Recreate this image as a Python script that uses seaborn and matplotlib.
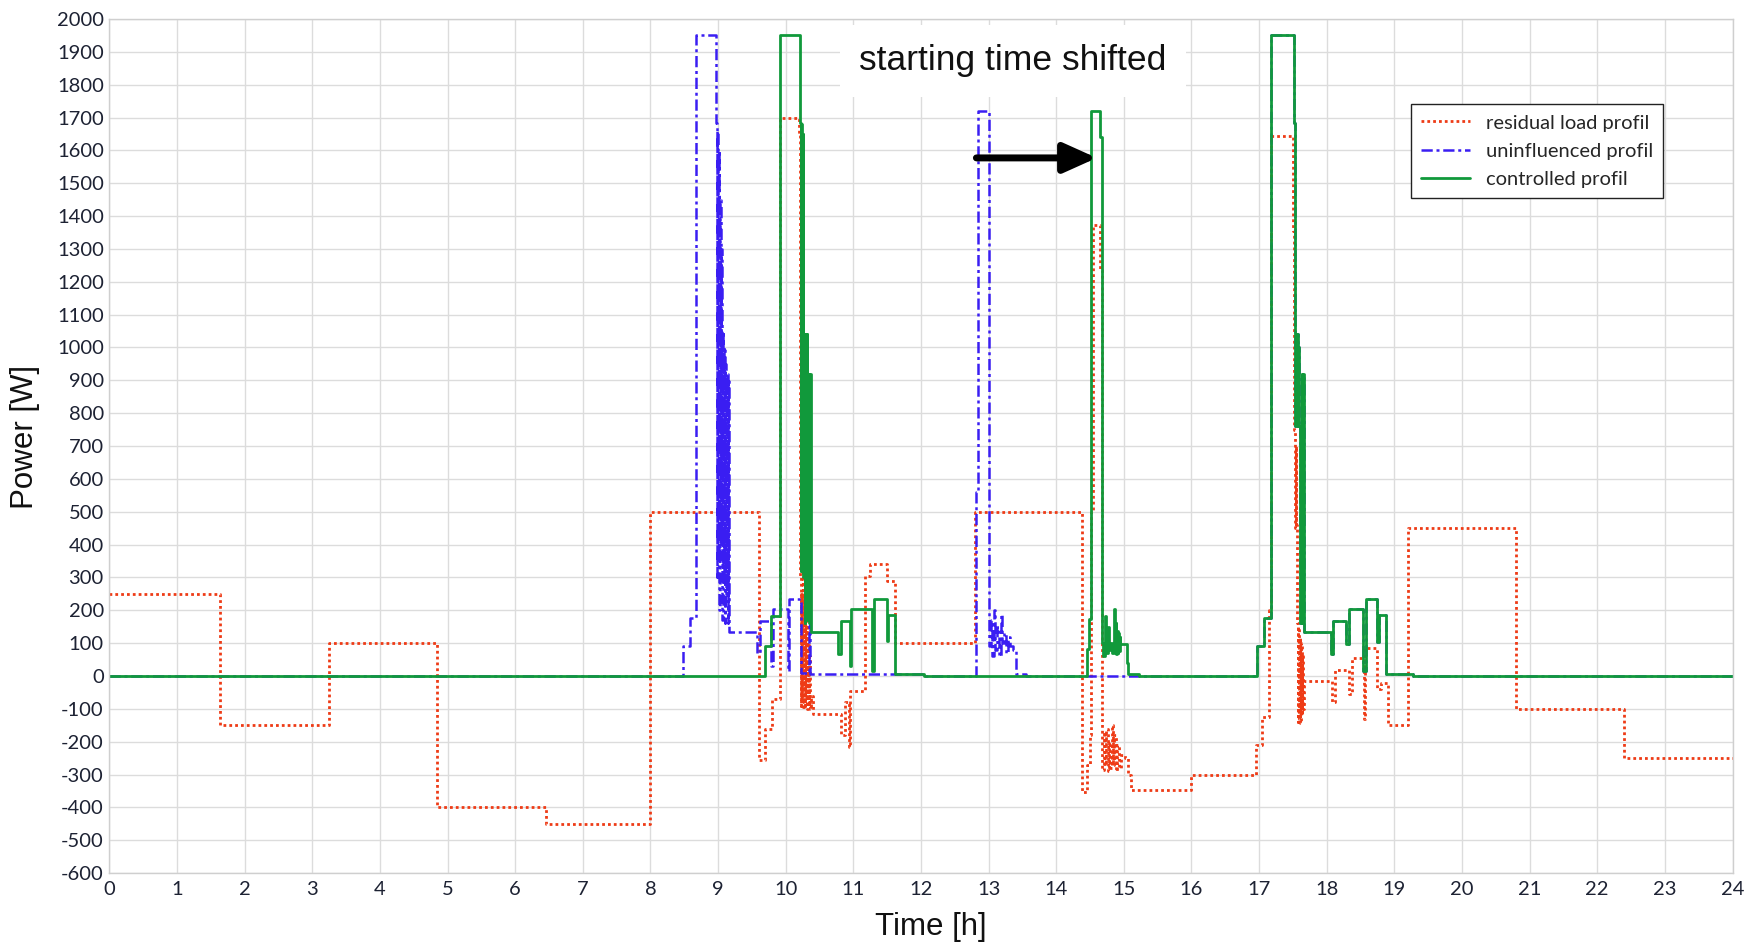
import matplotlib
matplotlib.use("Agg")
import matplotlib.pyplot as plt
import seaborn as sns
import pandas as pd

# ---------------- data (time [h], power [W]) as step breakpoints ----------------
residual_steps = [
    (0.00, 250), (1.63, -150), (3.25, 100), (4.85, -400), (6.45, -450), (8.00, 500),
    (9.60, -255), (9.70, -160), (9.80, -70), (9.91, 1700),
    (10.20, 1650), (10.21, 300), (10.22, -90), (10.23, 250), (10.24, -80), (10.25, 360),
    (10.26, -100), (10.27, 200), (10.28, -90), (10.29, 300), (10.30, -60), (10.31, 150),
    (10.32, -100), (10.33, 100), (10.34, -90), (10.35, 60), (10.36, -100), (10.38, -60),
    (10.40, -117), (10.82, -180), (10.87, -80), (10.93, -215), (10.95, -45), (11.18, 305),
    (11.25, 340), (11.50, 290), (11.62, 100), (12.80, 500),
    (14.38, -352), (14.46, -270), (14.50, -180), (14.52, 500), (14.54, 1373), (14.65, 1237),
    (14.67, 92), (14.68, -285), (14.70, -170), (14.72, -270), (14.74, -160), (14.76, -290),
    (14.78, -200), (14.80, -280), (14.82, -150), (14.84, -270), (14.86, -180), (14.88, -290),
    (14.90, -210), (14.93, -280), (14.96, -240), (15.02, -250), (15.06, -300), (15.10, -347),
    (16.00, -300), (16.96, -210), (17.05, -125), (17.15, 200), (17.17, 1645),
    (17.50, 1356), (17.52, 750), (17.53, 452), (17.54, 700), (17.55, 460), (17.56, 160),
    (17.57, -140), (17.58, 150), (17.59, -130), (17.60, 120), (17.61, -143), (17.62, 100),
    (17.63, -120), (17.64, 60), (17.65, -100),
    (17.67, -15), (18.08, -80), (18.12, 17), (18.33, -55), (18.37, 55), (18.55, -130),
    (18.57, 85), (18.75, -40), (18.80, -20), (18.90, -148), (19.20, 450), (20.80, -100),
    (22.40, -250), (24.00, -250),
]

# third run (not shifted): identical for uninfluenced and controlled profile
run3_steps = [
    (16.97, 92), (17.07, 178), (17.18, 1950), (17.51, 1682), (17.53, 760), (17.54, 1040),
    (17.55, 780), (17.56, 1040), (17.57, 760), (17.58, 1000), (17.59, 760), (17.60, 160),
    (17.63, 918), (17.64, 160), (17.65, 918), (17.66, 135),
    (18.06, 66), (18.09, 166), (18.29, 97), (18.33, 204), (18.53, 15), (18.58, 233),
    (18.75, 105), (18.77, 187), (18.88, 5), (19.28, 0), (24.00, 0),
]

uninfluenced_steps = [
    (0.00, 0), (8.48, 92), (8.58, 177), (8.68, 1950),
    (8.97, 1682), (8.98, 300), (8.99, 1660), (9.00, 350), (9.01, 1600), (9.02, 200),
    (9.03, 1450), (9.04, 400), (9.05, 1300), (9.06, 170), (9.07, 1050), (9.08, 300),
    (9.09, 1000), (9.10, 160), (9.11, 950), (9.12, 250), (9.13, 920), (9.14, 160), (9.15, 900),
    (9.16, 133), (9.58, 71), (9.62, 166), (9.79, 30), (9.81, 204), (10.03, 15), (10.05, 233),
    (10.22, 10), (10.34, 160), (10.36, 5), (12.05, 0),
    (12.81, 560), (12.84, 1720), (13.00, 92), (13.03, 170), (13.05, 60), (13.08, 200),
    (13.10, 80), (13.13, 150), (13.15, 60), (13.18, 190), (13.20, 100), (13.23, 130),
    (13.26, 70), (13.29, 120), (13.32, 90), (13.36, 80), (13.40, 5), (13.55, 0),
] + run3_steps

controlled_steps = [
    (0.00, 0), (9.70, 92), (9.78, 182), (9.91, 1950),
    (10.21, 1682), (10.22, 320), (10.23, 1680), (10.24, 400), (10.25, 1650), (10.26, 300),
    (10.27, 1040), (10.28, 160), (10.29, 1040), (10.30, 200), (10.31, 1040), (10.32, 170),
    (10.34, 918), (10.35, 160), (10.36, 918), (10.37, 133),
    (10.78, 66), (10.82, 166), (10.95, 30), (10.97, 204), (11.28, 15), (11.30, 233),
    (11.50, 107), (11.52, 187), (11.62, 5), (12.05, 0),
    (14.46, 82), (14.49, 173), (14.52, 1720), (14.65, 1640), (14.67, 102), (14.69, 61),
    (14.72, 184), (14.74, 70), (14.76, 150), (14.78, 80), (14.80, 100), (14.83, 70),
    (14.85, 204), (14.87, 80), (14.88, 160), (14.89, 66), (14.90, 138), (14.91, 70),
    (14.92, 130), (14.93, 75), (14.94, 120), (14.95, 97), (15.04, 40), (15.06, 5), (15.22, 0),
] + run3_steps

series_names = ["residual load profil", "uninfluenced profil", "controlled profil"]
series_colors = ["#ee3b16", "#3a1ef2", "#11993b"]
x_ticks = list(range(0, 25))
y_ticks = list(range(-600, 2001, 100))
annotation_text = "starting time shifted"
shift_from = (12.82, 1577)
shift_to = (14.60, 1577)

# ---------------- figure ----------------
sns.set_theme(style="whitegrid")
plt.rcParams["font.family"] = ["Lato", "DejaVu Sans"]
plt.rcParams["axes.unicode_minus"] = False

fig = plt.figure(figsize=(17.5, 9.47), dpi=100)
ax = fig.add_axes([0.0625, 0.078, 0.9275, 0.902])

styles = [
    dict(linestyle=(0, (1, 1.1)), linewidth=2.0),
    dict(linestyle=(0, (4.5, 1.5, 1.2, 1.5)), linewidth=1.8),
    dict(linestyle="-", linewidth=2.0),
]
for name, steps, color, st in zip(series_names,
                                  [residual_steps, uninfluenced_steps, controlled_steps],
                                  series_colors, styles):
    df = pd.DataFrame(steps, columns=["t", "p"])
    sns.lineplot(data=df, x="t", y="p", ax=ax, color=color, label=name,
                 drawstyle="steps-post", estimator=None, sort=False, **st)

ax.set_xlim(0, 24)
ax.set_ylim(-600, 2000)
ax.set_xticks(x_ticks)
ax.set_yticks(y_ticks)
ax.grid(True, color="#dcdcdc", linewidth=1.0)
for s in ax.spines.values():
    s.set_color("#cfcfcf")
    s.set_linewidth(1.0)
ax.tick_params(axis="both", length=0, labelsize=14.5, labelcolor="#1d2233")
ax.tick_params(axis="y", pad=4)
ax.tick_params(axis="x", pad=6)

ax.set_xlabel("Time [h]", fontsize=22.5, family=["Liberation Sans"], color="#111111")
ax.set_ylabel("Power [W]", fontsize=22.5, family=["Liberation Sans"], color="#111111")
ax.xaxis.set_label_coords(0.506, -0.045)
ax.yaxis.set_label_coords(-0.043, 0.511)

ax.text(13.36, 1872, annotation_text, fontsize=25.5, family=["Liberation Sans"], color="#111111",
        ha="center", va="center", zorder=5,
        bbox=dict(boxstyle="square,pad=0.55", facecolor="white", edgecolor="none"))

ax.annotate("", xy=shift_to, xytext=shift_from, zorder=6,
            arrowprops=dict(arrowstyle="-|>,head_length=1.0,head_width=0.45",
                            lw=5, color="black", shrinkA=0, shrinkB=0, mutation_scale=20))

leg = ax.legend(loc="upper left", bbox_to_anchor=(0.802, 0.900), borderaxespad=0,
                frameon=True, fancybox=False, edgecolor="#222222", framealpha=1,
                prop=dict(family=["Lato", "DejaVu Sans"], size=14.5),
                handlelength=2.4, labelspacing=0.55, borderpad=0.5, handletextpad=0.8)
leg.get_frame().set_linewidth(1.0)

fig.savefig("out.png", dpi=100)
